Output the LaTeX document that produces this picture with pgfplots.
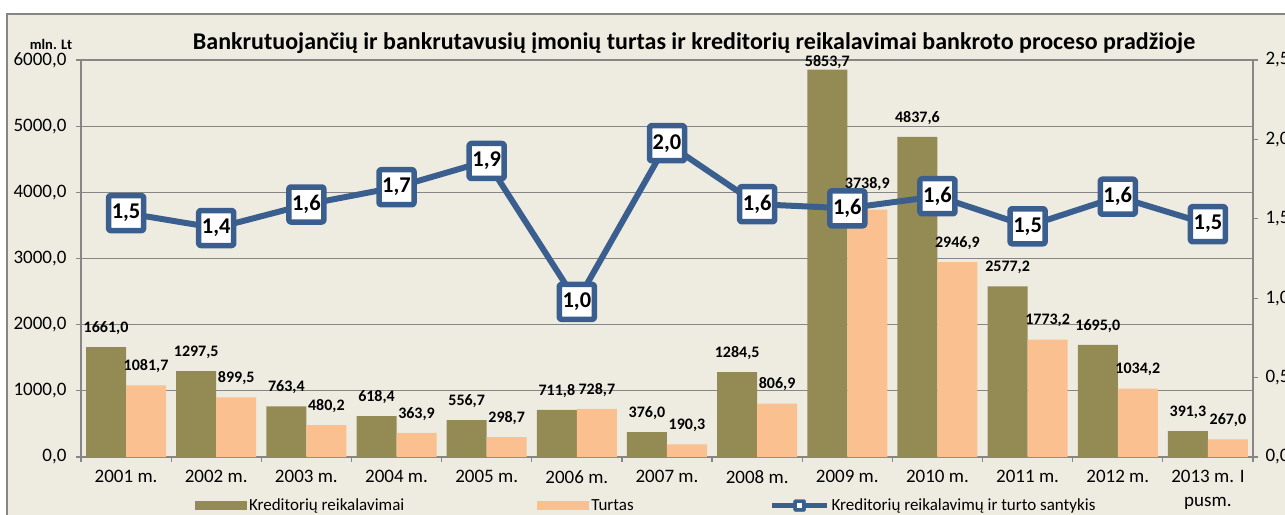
\documentclass[border=0pt]{standalone}
\usepackage{fontspec}
\setmainfont{Carlito}
\usepackage{pgfplots}
\usepackage{pgfplotstable}
\pgfplotsset{compat=1.18}
\pgfkeys{/pgf/number format/assume math mode=true}
\definecolor{colK}{HTML}{948A54}
\definecolor{colT}{HTML}{FAC090}
\definecolor{colL}{HTML}{3A5F8F}
\definecolor{colBg}{HTML}{EEECE1}
\definecolor{colAx}{HTML}{868686}

\pgfplotstableread{
x K T R dK dT
0 1661.0 1081.7 1.536 9 9
1 1297.5 899.5 1.442 9 9
2 763.4 480.2 1.590 9 9
3 618.4 363.9 1.699 9 9
4 556.7 298.7 1.864 9 9
5 711.8 728.7 0.977 9 9
6 376.0 190.3 1.976 9 9
7 1284.5 806.9 1.592 9 9
8 5853.7 3738.9 1.566 -3 15
9 4837.6 2946.9 1.642 9 9
10 2577.2 1773.2 1.453 9 9
11 1695.0 1034.2 1.639 9 9
12 391.3 267.0 1.466 9 9
}\data

\newcommand{\numfmt}[1]{\pgfmathprintnumber[fixed,fixed zerofill,precision=1,use comma,1000 sep={}]{#1}}

\begin{document}
\begin{tikzpicture}
\path[use as bounding box] (0bp,0bp) rectangle (1285bp,515bp);
\clip (0bp,0bp) rectangle (1285bp,515bp);
\fill[colBg] (7bp,-20bp) rectangle (1320bp,501bp);
\draw[colAx, line width=1.5bp] (7bp,-20bp) -- (7bp,501bp) -- (1320bp,501bp);
\node[font=\bfseries\fontsize{24bp}{26bp}\selectfont] at (694bp,472bp) {Bankrutuojančių ir bankrutavusių įmonių turtas ir kreditorių reikalavimai bankroto proceso pradžioje};
\node[font=\bfseries\fontsize{14.5bp}{16bp}\selectfont] at (51bp,471bp) {mln. Lt};

\begin{axis}[
  at={(81bp,58bp)}, anchor=south west,
  scale only axis, width=1172bp, height=397bp,
  xmin=-0.5, xmax=12.5, ymin=0, ymax=6000,
  ybar=0pt, bar width=40bp,
  axis line style={colAx, line width=1.3bp},
  tick style={colAx, line width=1.3bp},
  tick align=outside,
  major tick length=5bp, minor tick length=5bp,
  xtick={0,...,12},
  xticklabels={2001 m.,2002 m.,2003 m.,2004 m.,2005 m.,2006 m.,2007 m.,2008 m.,2009 m.,2010 m.,2011 m.,2012 m.,{2013 m. I\\pusm.}},
  major x tick style={draw=none},
  minor xtick={-0.5,0.5,...,12.5},
  xtick pos=left, ytick pos=left,
  ytick={0,1000,...,6000},
  ymajorgrids, major grid style={colAx, line width=1.1bp},
  yticklabel={\numfmt{\tick}},
  ticklabel style={font=\fontsize{19bp}{24bp}\selectfont, text=black},
  xticklabel style={align=center, yshift=-5bp},
  yticklabel style={xshift=-6bp},
  legend columns=3,
  legend style={at={(0.0973,-0.1222)}, anchor=west, draw=none, fill=none, inner sep=0pt, outer sep=0pt,
    font=\fontsize{17bp}{19bp}\selectfont,
    /tikz/column 2/.style={column sep=131bp},
    /tikz/column 4/.style={column sep=134bp}},
  every node near coord/.append style={font=\bfseries\fontsize{16bp}{18bp}\selectfont, text=black},
]
\addplot[fill=colK, draw=none,
  legend image code/.code={\fill[colK] (0bp,-4.5bp) rectangle (52bp,4.5bp);},
  nodes near coords={\numfmt{\pgfplotspointmeta}}, point meta=explicit,
  visualization depends on={\thisrow{dK} \as \dy},
  every node near coord/.append style={yshift=\dy bp}]
  table[x=x, y=K, meta=K] {\data};
\addlegendentry{Kreditorių reikalavimai}
\addplot[fill=colT, draw=none,
  legend image code/.code={\fill[colT] (0bp,-4.5bp) rectangle (52bp,4.5bp);},
  nodes near coords={\numfmt{\pgfplotspointmeta}}, point meta=explicit,
  visualization depends on={\thisrow{dT} \as \dy},
  every node near coord/.append style={yshift=\dy bp}]
  table[x=x, y=T, meta=T] {\data};
\addlegendentry{Turtas}
\addlegendimage{legend image code/.code={
  \draw[colL, line width=5bp] (0bp,0bp) -- (55bp,0bp);
  \fill[colL, rounded corners=1.5bp] (21.5bp,-6bp) rectangle (33.5bp,6bp);
  \fill[white] (25.5bp,-2bp) rectangle (29.5bp,2bp);}}
\addlegendentry{Kreditorių reikalavimų ir turto santykis}
\end{axis}

\begin{axis}[
  at={(81bp,58bp)}, anchor=south west,
  scale only axis, width=1172bp, height=397bp,
  xmin=-0.5, xmax=12.5, ymin=0, ymax=2.5,
  axis x line=none, axis y line*=right,
  axis line style={colAx, line width=1.3bp},
  tick style={colAx, line width=1.3bp},
  tick align=outside, major tick length=5bp,
  ytick={0,0.5,...,2.5},
  yticklabel={\numfmt{\tick}},
  yticklabel style={font=\fontsize{19bp}{24bp}\selectfont, text=black, xshift=4bp},
]
\addplot[colL, line width=6bp, line join=round,
  nodes near coords={\numfmt{\pgfplotspointmeta}}, point meta=explicit,
  nodes near coords align=center,
  every node near coord/.append style={anchor=center, draw=colL, line width=5.5bp, fill=white,
    minimum width=35bp, minimum height=35bp, inner sep=0pt, rounded corners=2bp,
    font=\bfseries\fontsize{22.5bp}{24bp}\selectfont, text=black}]
  table[x=x, y=R, meta=R] {\data};
\end{axis}
\end{tikzpicture}
\end{document}
